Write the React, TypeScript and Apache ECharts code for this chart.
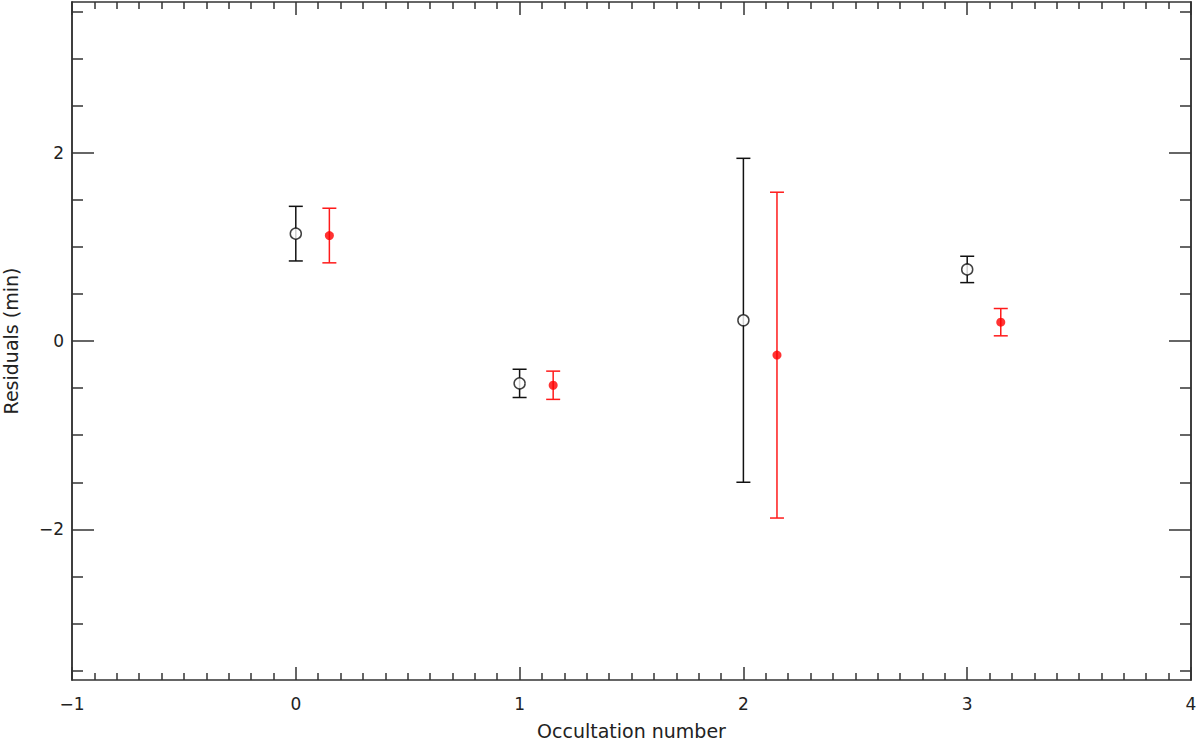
import React, { useEffect, useRef } from "react";
import * as echarts from "echarts";

// Occultation numbers and values
const occultations = [0, 1, 2, 3];
const blackResiduals = [1.14, -0.45, 0.22, 0.76];
const blackErrors = [0.29, 0.15, 1.72, 0.14];

const redOccultations = [0.15, 1.15, 2.15, 3.15];
const redResiduals = [1.12, -0.47, -0.15, 0.2];
const redErrors = [0.29, 0.15, 1.73, 0.145];

const yMajorTicks = [-2, 0, 2];
const yMinorTicks = [-3.5, -3, -2.5, -1.5, -1, -0.5, 0.5, 1, 1.5, 2.5, 3, 3.5];

const AXIS_COLOR = "#333";
const TEXT_COLOR = "#222";
const FONT = "DejaVu Sans";

const minus = (v: number) => String(v).replace("-", "\u2212");

function errorBarSeries(xs: number[], ys: number[], errs: number[], color: string) {
  const data = xs.map((x, i) => [x, ys[i] - errs[i], ys[i] + errs[i]]);
  return {
    type: "custom",
    xAxisIndex: 0,
    yAxisIndex: 0,
    z: 2,
    data,
    encode: { x: 0, y: [1, 2] },
    renderItem: (params: any, api: any) => {
      const x = api.value(0);
      const lo = api.value(1);
      const hi = api.value(2);
      const pHi = api.coord([x, hi]);
      const pLo = api.coord([x, lo]);
      const hw = 7;
      const style = { stroke: color, lineWidth: 1.5 };
      return {
        type: "group",
        children: [
          { type: "line", shape: { x1: pHi[0], y1: pHi[1], x2: pLo[0], y2: pLo[1] }, style },
          { type: "line", shape: { x1: pHi[0] - hw, y1: pHi[1], x2: pHi[0] + hw, y2: pHi[1] }, style },
          { type: "line", shape: { x1: pLo[0] - hw, y1: pLo[1], x2: pLo[0] + hw, y2: pLo[1] }, style },
        ],
      };
    },
  };
}

export default function App() {
  const ref = useRef<HTMLDivElement>(null);

  useEffect(() => {
    if (!ref.current) return;
    const chart = echarts.init(ref.current, null, { renderer: "svg" });
    const lineStyle = { color: AXIS_COLOR, width: 1.5 };
    const xBase = {
      type: "value",
      min: -1,
      max: 4,
      interval: 1,
      gridIndex: 0,
      splitLine: { show: false },
      axisLine: { show: true, onZero: false, lineStyle },
      axisTick: { show: true, inside: true, length: 13, lineStyle },
      minorTick: { show: true, splitNumber: 10, length: 7, lineStyle },
    };
    const yBase = {
      type: "value",
      min: -3.6,
      max: 3.6,
      gridIndex: 0,
      splitLine: { show: false },
      axisLine: { show: true, onZero: false, lineStyle },
    };
    const option: any = {
      animation: false,
      backgroundColor: "#fff",
      grid: { left: 72, right: 9, top: 2, bottom: 62, containLabel: false, outerBoundsMode: "none" },
      xAxis: [
        {
          ...xBase,
          position: "bottom",
          axisLabel: {
            show: true,
            formatter: (v: number) => minus(v),
            color: TEXT_COLOR,
            fontFamily: FONT,
            fontSize: 17,
            margin: 15,
          },
          name: "Occultation number",
          nameLocation: "middle",
          nameGap: 41,
          nameTextStyle: { color: TEXT_COLOR, fontFamily: FONT, fontSize: 19 },
        },
        { ...xBase, position: "top", axisLabel: { show: false } },
      ],
      yAxis: [
        {
          ...yBase,
          position: "left",
          axisTick: { show: true, inside: true, length: 22, lineStyle, customValues: yMajorTicks },
          axisLabel: {
            show: true,
            customValues: yMajorTicks,
            formatter: (v: number) => minus(v),
            color: TEXT_COLOR,
            fontFamily: FONT,
            fontSize: 17,
            margin: 8,
          },
          name: "Residuals (min)",
          nameLocation: "middle",
          nameGap: 52,
          nameTextStyle: { color: TEXT_COLOR, fontFamily: FONT, fontSize: 19 },
        },
        {
          ...yBase,
          position: "left",
          axisTick: { show: true, inside: true, length: 11, lineStyle, customValues: yMinorTicks },
          axisLabel: { show: false },
        },
        {
          ...yBase,
          position: "right",
          axisTick: { show: true, inside: true, length: 22, lineStyle, customValues: yMajorTicks },
          axisLabel: { show: false },
        },
        {
          ...yBase,
          position: "right",
          axisTick: { show: true, inside: true, length: 11, lineStyle, customValues: yMinorTicks },
          axisLabel: { show: false },
        },
      ],
      series: [
        errorBarSeries(occultations, blackResiduals, blackErrors, "#111"),
        errorBarSeries(redOccultations, redResiduals, redErrors, "#ff1a1a"),
        {
          type: "scatter",
          xAxisIndex: 0,
          yAxisIndex: 0,
          z: 5,
          symbol: "circle",
          symbolSize: 11,
          itemStyle: { color: "#fff", borderColor: "#111", borderWidth: 1.5 },
          data: occultations.map((x, i) => [x, blackResiduals[i]]),
        },
        {
          type: "scatter",
          xAxisIndex: 0,
          yAxisIndex: 0,
          z: 5,
          symbol: "circle",
          symbolSize: 9,
          itemStyle: { color: "#ff0000" },
          data: redOccultations.map((x, i) => [x, redResiduals[i]]),
        },
      ],
    };
    chart.setOption(option);
    return () => chart.dispose();
  }, []);

  return (
    <div
      ref={ref}
      style={{ position: "absolute", left: 0, top: 0, width: 1200, height: 742, background: "#fff" }}
    />
  );
}
